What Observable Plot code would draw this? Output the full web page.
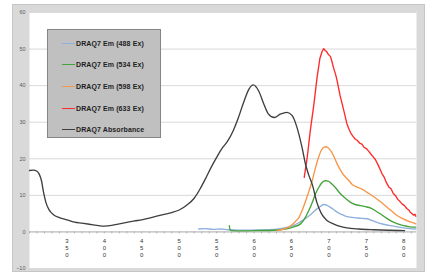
<!DOCTYPE html>
<html>
<head>
<meta charset="utf-8">
<script src="https://cdn.jsdelivr.net/npm/d3@7"></script>
<script src="https://cdn.jsdelivr.net/npm/@observablehq/plot@0.6"></script>
<style>
  html, body { margin: 0; padding: 0; background: #ffffff; }
  #wrap { position: relative; width: 429px; height: 273px; overflow: hidden; font-family: "Liberation Sans", Arial, sans-serif; }
  #frame { position: absolute; left: 12px; top: 4px; width: 413px; height: 268px; box-sizing: border-box; background: #d9d9d9; border: 1px solid #c6c6c6; }
  #chart { position: absolute; left: 0; top: 0; }
  #legend { position: absolute; left: 47px; top: 29px; width: 114px; height: 109px; box-sizing: border-box; background: #c0c0c0; border: 1px solid #858585; }
  .item { position: absolute; left: 14px; height: 10px; display: flex; align-items: center; }
  .swatch { width: 13px; height: 0; border-top: 1.6px solid; margin-right: 1px; }
  .lbl { font-size: 7px; font-weight: bold; color: #1e1e1e; letter-spacing: 0.1px; white-space: nowrap; }
</style>
</head>
<body>
<div id="wrap">
  <div id="frame"></div>
  <div id="chart"></div>
  <div id="legend"></div>
</div>
<script>
// ---- Data ----
const seriesNames = ["DRAQ7 Em (488 Ex)", "DRAQ7 Em (534 Ex)", "DRAQ7 Em (598 Ex)", "DRAQ7 Em (633 Ex)", "DRAQ7 Absorbance"];
const seriesColors = ["#8eb0dc", "#44a33a", "#f79646", "#ff2a2a", "#3f3f3f"];

const yTicks = [-10, 0, 10, 20, 30, 40, 50, 60];
const xLabelTicks = [350, 400, 450, 500, 550, 600, 650, 700, 750, 800];
const xMinorTicks = d3.range(300, 811, 10);

const em488Wl  = [526, 535, 545, 555, 565, 580, 600, 620, 635, 645, 653, 662, 671, 678, 684, 689, 693, 697, 702, 707, 711, 718, 724, 731, 738, 745, 751, 758, 764, 773, 782, 791, 800, 808, 816];
const em488Val = [0.8, 0.9, 0.7, 0.8, 0.6, 0.5, 0.5, 0.6, 0.9, 1.3, 1.8, 2.8, 4.0, 5.2, 6.3, 7.0, 7.5, 7.3, 6.7, 6.0, 5.4, 4.7, 4.2, 4.0, 3.8, 3.7, 3.6, 3.1, 2.6, 2.1, 1.7, 1.4, 1.1, 0.9, 0.8];

const em534Wl  = [567, 568, 575, 590, 605, 620, 635, 645, 653, 662, 668, 673, 678, 682, 686, 690, 695, 699, 704, 710, 715, 722, 729, 735, 742, 749, 756, 762, 769, 776, 782, 791, 800, 808, 816];
const em534Val = [1.7, 0.5, 0.3, 0.3, 0.4, 0.4, 0.6, 0.9, 1.4, 2.2, 3.8, 5.8, 8.2, 10.4, 12.0, 13.3, 14.0, 13.9, 13.1, 11.8, 10.5, 9.2, 8.1, 7.5, 7.2, 6.9, 6.5, 5.8, 4.9, 3.9, 3.1, 2.3, 1.7, 1.4, 1.3];

const em598Wl  = [631, 640, 649, 655, 660, 665, 669, 673, 677, 682, 686, 690, 695, 699, 703, 707, 711, 716, 720, 726, 731, 737, 744, 751, 758, 764, 771, 778, 785, 791, 798, 805, 811, 816];
const em598Val = [0.4, 0.8, 1.7, 2.8, 4.0, 6.3, 8.5, 11.0, 13.5, 17.5, 20.3, 22.4, 23.3, 23.0, 22.0, 20.5, 18.6, 16.7, 15.5, 14.2, 13.0, 12.3, 11.7, 10.8, 9.9, 9.0, 7.9, 6.7, 5.5, 4.5, 3.7, 3.0, 2.6, 2.2];

const em633Wl  = [667, 671, 675, 680, 684, 688, 691, 693, 695, 697, 699, 702, 704, 706, 709, 711, 715, 720, 724, 727, 729, 732, 735, 738, 741, 744, 747, 750, 753, 756, 759, 762, 765, 768, 771, 774, 777, 780, 783, 786, 789, 792, 795, 798, 801, 804, 807, 809, 811, 813, 815, 816];
const em633Val = [14.9, 20.4, 27.5, 35.0, 42.0, 47.5, 49.4, 50.1, 49.6, 49.3, 48.6, 48.0, 46.6, 45.0, 43.0, 41.3, 37.2, 33.1, 29.6, 28.0, 27.1, 26.2, 25.4, 25.0, 24.3, 24.0, 23.1, 22.8, 22.1, 21.3, 20.6, 19.8, 18.6, 17.3, 15.9, 14.9, 13.4, 12.3, 11.8, 10.5, 9.9, 8.9, 8.3, 7.6, 7.2, 6.4, 5.9, 5.3, 5.0, 4.6, 4.8, 4.3];

const absWl  = [300, 305, 310, 313, 316, 319, 322, 326, 332, 340, 350, 360, 370, 380, 390, 400, 410, 420, 430, 440, 450, 460, 470, 480, 490, 500, 510, 520, 528, 535, 543, 550, 557, 564, 572, 579, 586, 593, 599, 606, 613, 619, 627, 635, 644, 651, 657, 664, 669, 673, 678, 684, 690, 697, 706, 715, 724, 740, 760, 780, 801];
const absVal = [16.8, 16.9, 16.6, 15.8, 14.0, 10.6, 8.0, 6.1, 4.7, 3.9, 3.3, 2.7, 2.4, 2.1, 1.8, 1.6, 1.8, 2.2, 2.6, 3.0, 3.3, 3.8, 4.3, 4.8, 5.3, 6.0, 7.3, 9.2, 11.8, 14.5, 17.8, 20.4, 22.8, 24.6, 27.6, 31.2, 35.4, 39.0, 40.2, 38.6, 35.0, 32.3, 31.3, 32.2, 32.7, 31.8, 28.8, 23.2, 18.3, 15.6, 12.8, 8.0, 5.0, 3.2, 2.2, 1.5, 1.1, 0.8, 0.6, 0.45, 0.35];

const series = [
  {wl: em488Wl, val: em488Val, curve: "monotone-x"},
  {wl: em534Wl, val: em534Val, curve: "monotone-x"},
  {wl: em598Wl, val: em598Val, curve: "monotone-x"},
  {wl: em633Wl, val: em633Val, curve: "linear"},
  {wl: absWl, val: absVal, curve: "monotone-x"}
].map((s, i) => ({...s, name: seriesNames[i], color: seriesColors[i],
  rows: s.wl.map((w, j) => ({wl: w, v: s.val[j]}))}));

const chart = Plot.plot({
  width: 429,
  height: 273,
  marginLeft: 29,
  marginRight: 13,
  marginTop: 12,
  marginBottom: 5,
  x: {domain: [300, 817], axis: null, label: null},
  y: {domain: [-10, 60], axis: null, label: null},
  style: {background: "transparent", fontFamily: "'Liberation Sans', Arial, sans-serif", overflow: "visible"},
  marks: [
    Plot.frame({fill: "white", stroke: null}),
    Plot.gridY(yTicks.filter(t => t !== 0), {stroke: "#d9d9d9", strokeOpacity: 1, strokeWidth: 1}),
    Plot.axisY(yTicks, {tickSize: 0, tickPadding: 4, fontSize: 5.5, fill: "#595959", anchor: "left", label: null}),
    Plot.ruleY([0], {stroke: "#a8a8a8", strokeWidth: 1}),
    Plot.ruleX(xMinorTicks, {x: d => d, y1: 0, y2: 0, insetBottom: -2, stroke: "#a8a8a8", strokeWidth: 0.8}),
    Plot.text(xLabelTicks, {
      x: d => d, y: 0,
      text: d => String(d).split("").join("\n"),
      lineAnchor: "top", lineHeight: 1.2, dy: 5.5, fontSize: 6, fill: "#333333"
    }),
    ...series.map(s => Plot.line(s.rows, {x: "wl", y: "v", stroke: s.color, strokeWidth: 1.35, curve: s.curve}))
  ]
});
document.getElementById("chart").appendChild(chart);

// Legend
const legend = document.getElementById("legend");
series.forEach((s, i) => {
  const item = document.createElement("div");
  item.className = "item";
  item.style.top = (8 + i * 21.7) + "px";
  const sw = document.createElement("span");
  sw.className = "swatch";
  sw.style.borderTopColor = s.color;
  const lb = document.createElement("span");
  lb.className = "lbl";
  lb.textContent = s.name;
  item.appendChild(sw);
  item.appendChild(lb);
  legend.appendChild(item);
});
</script>
</body>
</html>
